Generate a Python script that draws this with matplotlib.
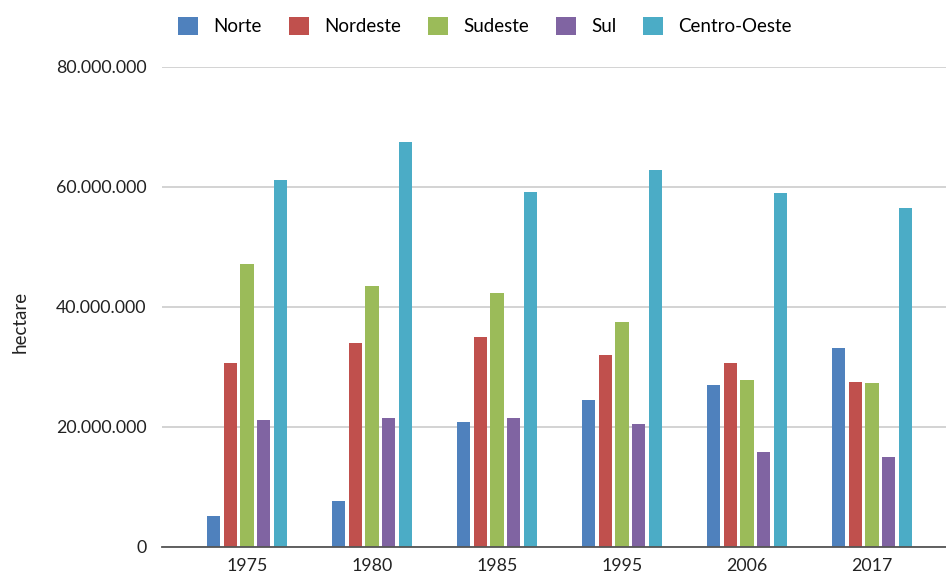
import matplotlib

matplotlib.use("Agg")

import matplotlib.pyplot as plt
import numpy as np
from matplotlib.patches import Patch
from matplotlib.ticker import FuncFormatter

plt.rcParams["font.family"] = ["Lato", "DejaVu Sans"]

anos = ["1975", "1980", "1985", "1995", "2006", "2017"]
regioes = ["Norte", "Nordeste", "Sudeste", "Sul", "Centro-Oeste"]

norte = [5.1e6, 7.6e6, 20.75e6, 24.4e6, 26.9e6, 33.1e6]
nordeste = [30.6e6, 34.0e6, 35.0e6, 32.0e6, 30.6e6, 27.5e6]
sudeste = [47.1e6, 43.5e6, 42.3e6, 37.5e6, 27.8e6, 27.2e6]
sul = [21.1e6, 21.4e6, 21.4e6, 20.5e6, 15.75e6, 14.9e6]
centro_oeste = [61.1e6, 67.5e6, 59.1e6, 62.75e6, 58.9e6, 56.4e6]

cores = ["#4F81BD", "#C0504D", "#9BBB59", "#8064A2", "#4BACC6"]

series = [norte, nordeste, sudeste, sul, centro_oeste]

fig = plt.figure(figsize=(9.46, 5.72), dpi=100)
ax = fig.add_axes([162 / 946, 25.5 / 572, 1 - 162 / 946, (546.5 - 66.5) / 572])

x = np.arange(len(anos))
passo = 0.134
largura = 0.106
for i, (valores, cor) in enumerate(zip(series, cores)):
    ax.bar(x + (i - 2) * passo, valores, width=largura, color=cor,
           edgecolor="none", zorder=3)

ax.set_ylim(0, 80e6)
ax.set_xlim(-(247 - 162) / 125, (946 - 247) / 125)
ax.set_yticks(np.arange(0, 80e6 + 1, 20e6))
ax.yaxis.set_major_formatter(
    FuncFormatter(lambda v, _: f"{int(v):,}".replace(",", ".")))
ax.set_xticks(x)
ax.set_xticklabels(anos)

ax.grid(axis="y", color="#d0d0d0", linewidth=1.3, zorder=0)
for lado in ["top", "right", "left"]:
    ax.spines[lado].set_visible(False)
ax.spines["bottom"].set_color("#555555")
ax.spines["bottom"].set_linewidth(1.3)
ax.spines["bottom"].set_zorder(4)
ax.tick_params(axis="both", length=0, labelsize=12.8, colors="#222222")
ax.tick_params(axis="y", pad=11)
ax.tick_params(axis="x", pad=8)

# titulo do eixo um pouco abaixo do centro, como no original
fig.text(20 / 946, 1 - 322 / 572, "hectare", rotation=90, ha="center",
         va="center", fontsize=13.5, color="#222222")

handles = [Patch(facecolor=c, edgecolor="none") for c in cores]
fig.legend(handles, regioes, loc="center", bbox_to_anchor=(485 / 946, 1 - 26 / 572),
           ncol=5, frameon=False, fontsize=13.5, handlelength=1.07,
           handleheight=1.07, handletextpad=0.8, columnspacing=1.45)

fig.savefig("out.png", dpi=100)
